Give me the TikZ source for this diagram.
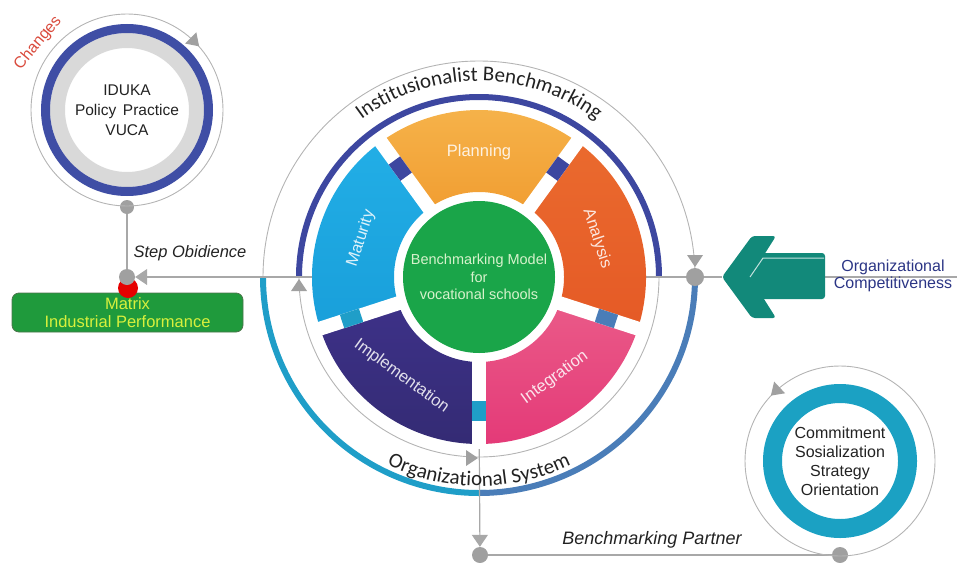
\documentclass[tikz,border=0pt]{standalone}
\usepackage{fontspec}
\setmainfont{Liberation Sans}
\newfontfamily\carl{Carlito}
\usetikzlibrary{calc,decorations.text,arrows.meta}

\definecolor{planT}{HTML}{F6B44C}
\definecolor{planB}{HTML}{F19E32}
\definecolor{anaT}{HTML}{EA6A2E}
\definecolor{anaB}{HTML}{E55A26}
\definecolor{integT}{HTML}{EA5A88}
\definecolor{integB}{HTML}{E43A78}
\definecolor{implT}{HTML}{3D3188}
\definecolor{implB}{HTML}{342B74}
\definecolor{matT}{HTML}{22AEE6}
\definecolor{matB}{HTML}{199FDA}
\definecolor{coreC}{HTML}{1AA549}
\definecolor{coreT}{HTML}{D7F2CC}
\definecolor{ringBlue}{HTML}{3D47A0}
\definecolor{ringTeal}{HTML}{1F9EC8}
\definecolor{ringSteel}{HTML}{4A7DB8}
\definecolor{lineGray}{HTML}{A8A8A8}
\definecolor{dotGray}{HTML}{A0A0A0}
\definecolor{thinGray}{HTML}{B4B4B4}
\definecolor{chevC}{HTML}{12897A}
\definecolor{boxC}{HTML}{1F9A3C}
\definecolor{boxT}{HTML}{D8F03C}
\definecolor{navyT}{HTML}{2B3585}
\definecolor{darkT}{HTML}{222222}
\definecolor{redT}{HTML}{D94A3C}
\definecolor{paleGray}{HTML}{D9D9D9}
\definecolor{ringBlue2}{HTML}{3F4EA5}
\definecolor{tealRing}{HTML}{1BA1C3}

\tikzset{
  gline/.style={draw=lineGray, line width=1.2pt},
  thinring/.style={draw=thinGray, line width=0.9pt},
  dot/.style={circle, fill=dotGray, minimum size=16pt, inner sep=0pt},
  tipmark/.pic={\fill[dotGray] (6,0) -- (-6,8) -- (-6,-8) -- cycle;},
  seclbl/.style={font=\fontsize{16.5}{19}\selectfont, text=white, text opacity=0.85},
  plain/.style={font=\fontsize{15.5}{20}\selectfont, text=darkT, align=center},
  gtip/.style={-{Triangle[width=16pt,length=12pt]}},
}

\begin{document}
\begin{tikzpicture}[x=1pt,y=1pt]
\useasboundingbox (0,0) rectangle (957,-562);
\coordinate (C) at (479,-277);

% outer ring of the wheel: thin grey over the top, teal and steel blue below
\draw[thinring] ($(C)+(180:216)$) arc[start angle=180, end angle=0, radius=216];
\draw[ringTeal, line width=6pt] ($(C)+(180:216)$) arc[start angle=180, end angle=272, radius=216];
\draw[ringSteel, line width=6pt] ($(C)+(0:216)$) arc[start angle=0, end angle=-90, radius=216];

% inner ring: dark blue over the top, thin grey below
\draw[ringBlue, line width=6pt] ($(C)+(180:180)$) arc[start angle=180, end angle=0, radius=180];
\draw[thinring] ($(C)+(180:180)$) arc[start angle=180, end angle=360, radius=180];

% anchor points
\coordinate (matEdge) at ($(C)+(180:167)$);
\coordinate (anaEdge) at ($(C)+(0:167)$);
\coordinate (sqB) at ($(C)+(270:134)$);
\coordinate (chevL) at (722,-277);
\coordinate (chevR) at (825,-277);
\coordinate (farR) at (957,-277);

% side dots
\node[dot, minimum size=14pt] (tdot) at (127,-207) {};
\node[dot, minimum size=18pt] (rdot) at (695,-277) {};
\node[dot] (bdot) at (480,-555) {};
\node[dot] (pdot) at (840,-555) {};

% connectors
\draw[gline] (anaEdge) -- (rdot) -- (chevL);
\draw[gline] (chevR) -- (farR);
\draw[gline, gtip] (sqB) -- (bdot);
\draw[gline] (bdot) -- (pdot);

% flow marks on the rings
\pic[rotate=90] at (299,-285) {tipmark};
\pic at (472,-458) {tipmark};
\pic[rotate=-90] at (695,-261) {tipmark};

% wheel sectors, lightly shaded
\foreach \a/\b/\ct/\cb in {54/126/planT/planB, 126/198/matT/matB, 198/270/implT/implB,
                            270/342/integT/integB, -18/54/anaT/anaB}{
  \shade[top color=\ct, bottom color=\cb] ($(C)+(\a:167)$) arc[start angle=\a, end angle=\b, radius=167]
     -- ($(C)+(\b:85)$) arc[start angle=\b, end angle=\a, radius=85] -- cycle;
}
% straight gaps between sectors
\foreach \g in {54,126,198,270,342}{
  \draw[white, line width=14pt] ($(C)+(\g:80)$) -- ($(C)+(\g:172)$);
}
% small links inside the gaps
\foreach \g/\col in {126/ringBlue, 54/ringBlue, 342/ringSteel, 270/ringTeal, 198/ringTeal}{
  \draw[\col, line width=14pt] ($(C)+(\g:124)$) -- ($(C)+(\g:144)$);
}

% centre
\node[circle, fill=coreC, minimum size=152pt, inner sep=0pt, align=center,
      text=coreT, font=\fontsize{14.5}{17.5}\selectfont] (core) at (C)
      {Benchmarking Model\\for\\vocational schools};

% sector labels
\node[seclbl] (planL) at ($(C)+(90:125)$) {Planning};
\node[seclbl, rotate=72] (matL) at ($(C)+(162:124)$) {Maturity};
\node[seclbl, rotate=-72] (anaL) at ($(C)+(18:124)$) {Analysis};
\node[seclbl, rotate=-36] (implL) at ($(C)+(232:126)$) {Implementation};
\node[seclbl, rotate=36] (integL) at ($(C)+(307:126)$) {Integration};

% curved titles
\path[decorate, decoration={text along path, text align=center,
  text={|\carl\fontsize{21}{21}\selectfont\color{darkT}|Institusionalist Benchmarking}}]
  ($(C)+(165:196)$) arc[start angle=165, end angle=15, radius=196];
\path[decorate, decoration={text along path, text align=center,
  text={|\carl\fontsize{21}{21}\selectfont\color{darkT}|Organizational System}}]
  ($(C)+(225:209)$) arc[start angle=225, end angle=315, radius=209];

% top-left circle
\coordinate (TL) at (127,-110);
\draw[thinring] (TL) circle[radius=96];
\draw[paleGray, line width=15pt] (TL) circle[radius=69.5];
\draw[ringBlue2, line width=9pt] (TL) circle[radius=81.5];
\node[plain] (drivers) at (TL) {IDUKA\\Policy\hspace{0.15em} Practice\\VUCA};
\pic[rotate=-45] at ($(TL)+(45:96)$) {tipmark};
\node[font=\fontsize{16}{16}\selectfont, text=redT, rotate=50] (chg) at (38,-43) {Changes};

% matrix box and its link
\node[draw=black!60!green!40!gray, line width=0.8pt, fill=boxC, rounded corners=7pt,
      minimum width=231pt, minimum height=39pt, align=center, text=boxT,
      font=\fontsize{16.5}{18}\selectfont] (matrix) at (127.5,-312.5)
      {Matrix\\Industrial Performance};
\node[circle, fill=red!90!black, minimum size=20pt, inner sep=0pt] (red) at (128,-288) {};
\node[dot] (ldot) at (127,-277) {};
\draw[gline] (tdot) -- (ldot);
\draw[gline, gtip] (matEdge) -- (ldot);
\node[font=\itshape\fontsize{16.5}{18}\selectfont, text=darkT] (obey) at (190,-253) {Step Obidience};

% competitiveness chevron
\fill[chevC, rounded corners=3pt] (745,-253) rectangle (825,-299);
\fill[chevC, rounded corners=3pt] (722,-277) -- (752,-236) -- (776,-236) -- (750,-277)
   -- (776,-318) -- (752,-318) -- cycle;
\draw[white!75!chevC, line width=1pt] (750,-277) -- (763,-258) -- (824,-258);
\node[font=\fontsize{16}{16.5}\selectfont, text=navyT, align=center] (comp) at (893,-276)
   {Organizational\\Competitiveness};

% bottom-right circle
\coordinate (BR) at (840,-461);
\draw[thinring] (BR) circle[radius=95];
\draw[tealRing, line width=19pt] (BR) circle[radius=67.5];
\node[font=\fontsize{16}{19}\selectfont, text=darkT, align=center] (culture) at (840,-461)
   {Commitment\\Sosialization\\Strategy\\Orientation};
\pic[rotate=223] at ($(BR)+(133:95)$) {tipmark};
\node[font=\itshape\fontsize{18}{18}\selectfont, text=darkT] (partner) at (652,-540) {Benchmarking Partner};

\end{tikzpicture}
\end{document}
